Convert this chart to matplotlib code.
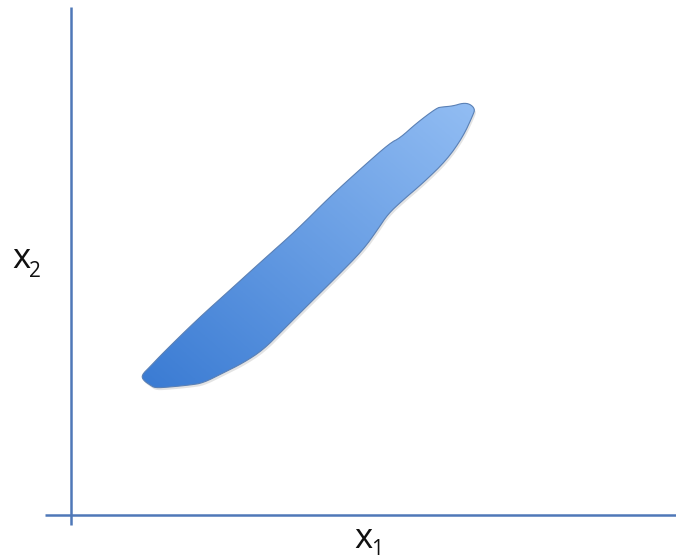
import numpy as np
from matplotlib import pyplot as plt
from matplotlib.patches import Polygon
from matplotlib.colors import LinearSegmentedColormap

# blob outline, in pixel units of the picture (y downwards)
upper_x = [141.7, 150, 163, 196.7, 230, 263, 296.7, 330, 363, 390, 400, 416.7, 436.7, 441.7, 453, 463, 470, 475]
upper_y = [375, 366.7, 353, 320, 290, 260, 230, 196.7, 166.7, 143, 138, 123, 108, 107, 106, 103, 104, 109]
lower_x = [473, 463, 446.7, 423, 403, 388, 378, 363, 336.7, 310, 283, 263, 243, 223, 203, 190, 170, 155, 150, 143]
lower_y = [115, 136.7, 160, 183, 200, 214, 229, 250, 276.7, 303, 330, 350, 363, 373, 383, 385, 387, 388, 385, 380]

axis_color = '#4f78b8'
fill_dark = '#3a7bd3'
fill_light = '#92bdf3'


def chaikin(p, n=2):
    # round off the corners of the closed outline
    for _ in range(n):
        q = np.roll(p, -1, axis=0)
        p = np.column_stack([0.75 * p + 0.25 * q, 0.25 * p + 0.75 * q]).reshape(-1, 2)
    return p


fig = plt.figure(figsize=(6.76, 5.59), dpi=100)
ax = fig.add_axes([0, 0, 1, 1])
ax.set_xlim(0, 676)
ax.set_ylim(559, 0)
ax.axis('off')

# axes of the diagram
ax.plot([70.5, 70.5], [7, 525], color=axis_color, lw=1.8, solid_capstyle='butt')
ax.plot([45, 676], [515, 515], color=axis_color, lw=1.8, solid_capstyle='butt')

pts = chaikin(np.column_stack([upper_x + lower_x, upper_y + lower_y]))

# faint shadow
shadow = Polygon(pts + [1.5, 2.5], closed=True, facecolor='#b0b0b0', edgecolor='none', alpha=0.35)
ax.add_patch(shadow)

blob = Polygon(pts, closed=True, facecolor='none', edgecolor='#5a80b5', lw=0.8)
ax.add_patch(blob)

# diagonal gradient clipped to the blob
x0, x1 = pts[:, 0].min(), pts[:, 0].max()
y0, y1 = pts[:, 1].min(), pts[:, 1].max()
gx, gy = np.meshgrid(np.linspace(0, 1, 200), np.linspace(0, 1, 200))
grad = (gx + (1 - gy)) / 2
cmap = LinearSegmentedColormap.from_list('blob', [fill_dark, fill_light])
img = ax.imshow(grad, cmap=cmap, extent=[x0, x1, y1, y0], origin='upper', aspect='auto', zorder=2)
img.set_clip_path(blob)
blob.set_zorder(3)

font = 'Open Sans'
ax.text(12, 268, 'x', fontsize=25, family=font, ha='left', va='baseline', color='#111111')
ax.text(29, 277, '2', fontsize=15, family=font, ha='left', va='baseline', color='#111111')
ax.text(354, 548, 'x', fontsize=25, family=font, ha='left', va='baseline', color='#111111')
ax.text(371, 555, '1', fontsize=15, family=font, ha='left', va='baseline', color='#111111')

plt.savefig('out.png', dpi=100)
